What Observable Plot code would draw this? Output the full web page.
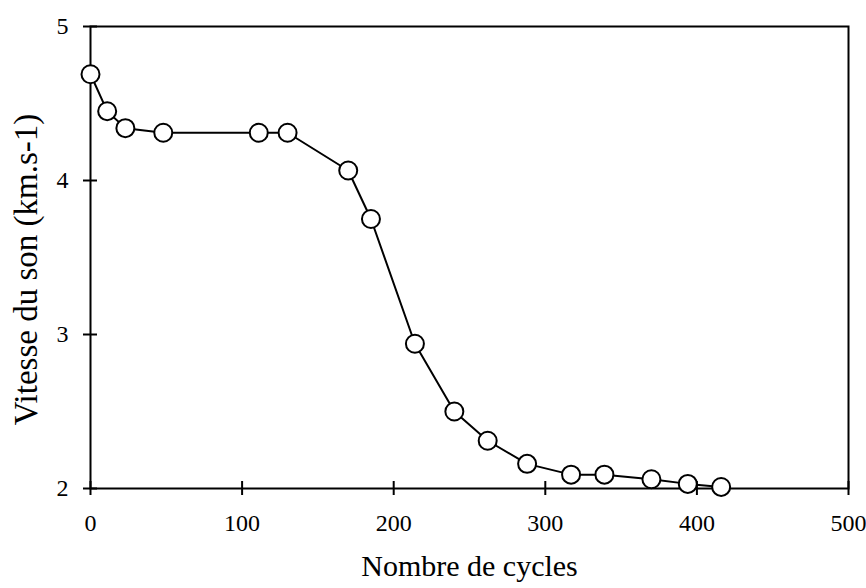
<!DOCTYPE html>
<html>
<head>
<meta charset="utf-8">
<script src="https://cdn.jsdelivr.net/npm/d3@7"></script>
<script src="https://cdn.jsdelivr.net/npm/@observablehq/plot@0.6"></script>
<style>
  html, body { margin: 0; padding: 0; background: #fff; }
  #chart svg { display: block; }
</style>
</head>
<body>
<div id="chart"></div>
<script>
const cycles = [0, 11, 23, 48, 111, 130, 170, 185, 214, 240, 262, 288, 317, 339, 370, 394, 416];
const vitesse = [4.69, 4.45, 4.34, 4.31, 4.31, 4.31, 4.065, 3.75, 2.94, 2.50, 2.31, 2.16, 2.09, 2.09, 2.06, 2.03, 2.01];
const xTicks = [0, 100, 200, 300, 400, 500];
const yTicks = [2, 3, 4, 5];
const xTitle = "Nombre de cycles";
const yTitle = "Vitesse du son (km.s-1)";

const data = cycles.map((c, i) => ({x: c, y: vitesse[i]}));
const font = "'Liberation Serif', 'Times New Roman', serif";

const chart = Plot.plot({
  width: 866,
  height: 588,
  marginLeft: 90,
  marginRight: 18,
  marginTop: 26,
  marginBottom: 100,
  style: {fontFamily: font, fontSize: "24px", color: "#000", background: "#fff"},
  x: {domain: [0, 500], axis: null},
  y: {domain: [2, 5], axis: null},
  marks: [
    Plot.frame({stroke: "#000", strokeWidth: 2}),
    Plot.ruleX(xTicks, {x: d => d, y1: 2, y2: 2, insetTop: -7, insetBottom: -7, stroke: "#000", strokeWidth: 2}),
    Plot.ruleY(yTicks, {y: d => d, x1: 0, x2: 0, insetLeft: -7, insetRight: -7, stroke: "#000", strokeWidth: 2}),
    Plot.text(xTicks, {x: d => d, frameAnchor: "bottom", dy: 42, text: d => String(d), fontSize: 24, fontFamily: font, fill: "#000"}),
    Plot.text(yTicks, {y: d => d, frameAnchor: "left", textAnchor: "end", dx: -22, text: d => String(d), fontSize: 24, fontFamily: font, fill: "#000"}),
    Plot.text([xTitle], {frameAnchor: "bottom", dy: 87, fontSize: 30, fontFamily: font, text: d => d, fill: "#000"}),
    Plot.text([yTitle], {frameAnchor: "left", textAnchor: "middle", dx: -64, dy: 12, rotate: -90, fontSize: 33, fontFamily: font, text: d => d, fill: "#000"}),
    Plot.line(data, {x: "x", y: "y", stroke: "#000", strokeWidth: 2}),
    Plot.dot(data, {x: "x", y: "y", r: 9, fill: "#fff", stroke: "#000", strokeWidth: 2})
  ]
});
document.getElementById("chart").appendChild(chart);
</script>
</body>
</html>
